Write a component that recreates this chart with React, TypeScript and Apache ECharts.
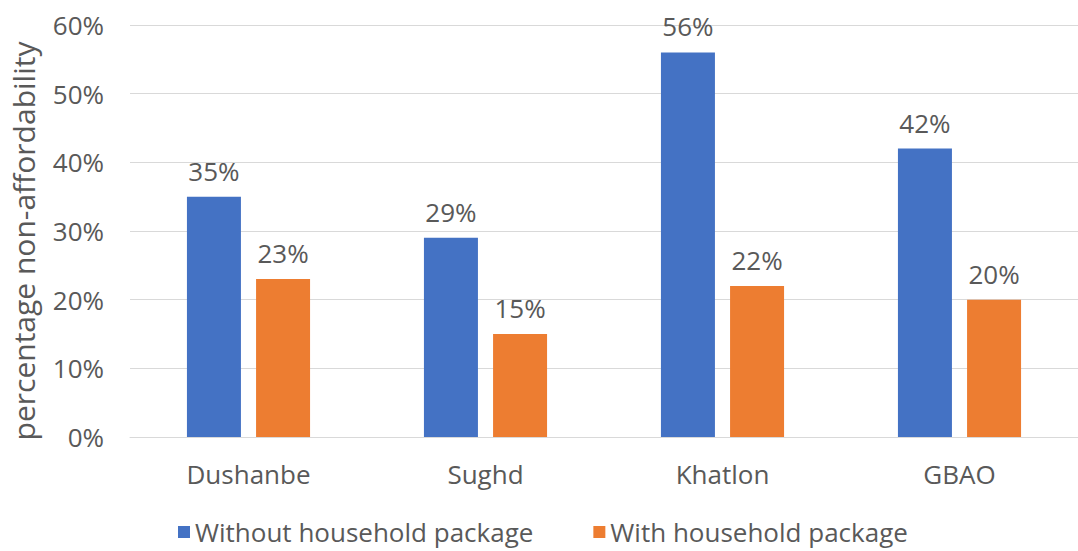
import React, { useEffect, useRef } from "react";
import * as echarts from "echarts";

const categories = ["Dushanbe", "Sughd", "Khatlon", "GBAO"];
const withoutPackage = [35, 29, 56, 42];
const withPackage = [23, 15, 22, 20];
const seriesNames = ["Without household package", "With household package"];
const yTicks = [0, 10, 20, 30, 40, 50, 60];

export default function App() {
  const ref = useRef<HTMLDivElement>(null);
  useEffect(() => {
    document.body.style.margin = "0";
    const chart = echarts.init(ref.current!, null, { renderer: "svg" });
    const font = "'Open Sans', 'Noto Sans', sans-serif";
    const textColor = "#595959";
    const labelStyle = {
      show: true,
      position: "top",
      distance: 13,
      fontSize: 26,
      color: textColor,
      fontFamily: font,
      formatter: (p: any) => p.value + "%",
    };
    chart.setOption({
      animation: false,
      textStyle: { fontFamily: font },
      grid: { left: 127, width: 958, top: 25, height: 412, containLabel: false },
      legend: {
        left: 173,
        top: 514,
        itemWidth: 12,
        itemHeight: 12,
        itemGap: 60,
        icon: "rect",
        textStyle: { fontSize: 26, lineHeight: 26, color: textColor, fontFamily: font },
        data: seriesNames,
      },
      xAxis: {
        type: "category",
        data: categories,
        axisLine: { show: true, lineStyle: { color: "#d9d9d9", width: 1 } },
        axisTick: { show: false },
        axisLabel: { fontSize: 26, color: textColor, margin: 24, fontFamily: font },
      },
      yAxis: {
        type: "value",
        min: yTicks[0],
        max: yTicks[yTicks.length - 1],
        interval: 10,
        name: "percentage non-affordability",
        nameLocation: "middle",
        nameGap: 92,
        nameTextStyle: { fontSize: 30, color: textColor, fontFamily: font, padding: [0, 20, 0, 0] },
        axisLine: { show: false },
        axisTick: { show: false },
        axisLabel: {
          fontSize: 26,
          color: textColor,
          margin: 26,
          fontFamily: font,
          formatter: (v: number) => v + "%",
        },
        splitLine: { lineStyle: { color: "#d9d9d9", width: 1 } },
      },
      series: [
        {
          name: seriesNames[0],
          type: "bar",
          data: withoutPackage,
          barWidth: 54,
          barGap: "28%",
          itemStyle: { color: "#4472C4" },
          label: labelStyle,
        },
        {
          name: seriesNames[1],
          type: "bar",
          data: withPackage,
          barWidth: 54,
          barGap: "28%",
          itemStyle: { color: "#ED7D31" },
          label: labelStyle,
        },
      ],
    });
    return () => chart.dispose();
  }, []);
  return <div ref={ref} style={{ width: 1078, height: 551 }} />;
}
